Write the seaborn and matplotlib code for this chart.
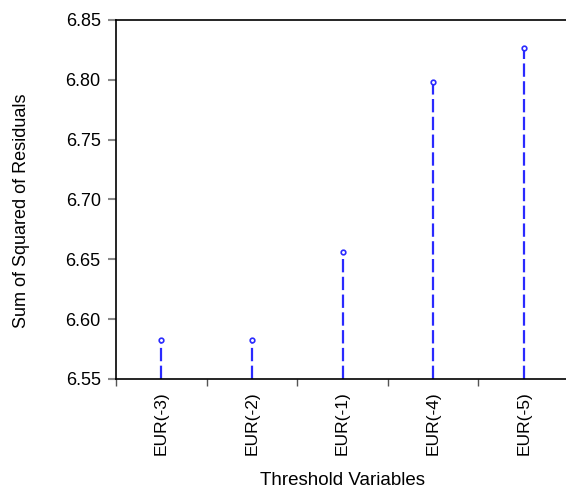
import numpy as np
import pandas as pd
import matplotlib
matplotlib.use("Agg")
import matplotlib.pyplot as plt
import seaborn as sns

# --------------------------------------------------------------------------- #
# Data
# --------------------------------------------------------------------------- #
variables = ["EUR(-3)", "EUR(-2)", "EUR(-1)", "EUR(-4)", "EUR(-5)"]
ssr = [6.5825, 6.5825, 6.6565, 6.7980, 6.8270]
y_ticks = [6.55, 6.60, 6.65, 6.70, 6.75, 6.80, 6.85]
y_min, y_max = 6.55, 6.85

df = pd.DataFrame({"variable": variables, "ssr": ssr})

sns.set_style("white")
plt.rcParams["font.family"] = ["Liberation Sans", "DejaVu Sans"]
plt.rcParams["text.color"] = "black"
plt.rcParams["axes.labelcolor"] = "black"
plt.rcParams["xtick.labelcolor"] = "black"
plt.rcParams["ytick.labelcolor"] = "black"

fig = plt.figure(figsize=(5.66, 4.9), dpi=100)
# axes run slightly past the right edge, as in the original
ax = fig.add_axes([116 / 566, 111 / 490, 453 / 566, 359 / 490])

stem_color = "#2a2aff"
pos = np.arange(len(variables))
ax.vlines(pos, y_min, df["ssr"], colors=stem_color, linewidth=1.6,
          linestyles=(0, (6, 2)))
sns.scatterplot(data=df, x="variable", y="ssr", ax=ax, marker="o", s=11,
                facecolor="white", edgecolor=stem_color, linewidth=1.2,
                zorder=3, legend=False)

ax.set_xlim(-0.5, len(variables) - 0.5)
ax.set_ylim(y_min, y_max)
ax.set_yticks(y_ticks)
ax.set_yticklabels([f"{t:.2f}" for t in y_ticks], fontsize=13)

ax.set_xticks(pos)
ax.set_xticklabels(variables, rotation=90, fontsize=12.5)
ax.set_xticks(np.arange(-0.5, len(variables) - 0.5, 1.0), minor=True)
ax.tick_params(axis="x", which="major", length=0, pad=9)
ax.tick_params(axis="x", which="minor", length=5, width=1, color="#555555",
               direction="out", bottom=True)
ax.tick_params(axis="y", which="major", length=6, width=1.5, color="#888888",
               direction="out", left=True, pad=5)

for side in ["left", "bottom", "top"]:
    ax.spines[side].set_color("black")
    ax.spines[side].set_linewidth(1.2)
ax.spines["right"].set_visible(False)

ax.set_xlabel("Threshold Variables", fontsize=13.5)
ax.set_ylabel("Sum of Squared of Residuals", fontsize=13)
ax.xaxis.set_label_coords(0.5, -0.284)
ax.xaxis.label.set_va("center")
ax.yaxis.set_label_coords(-0.2097, 0.468)
ax.yaxis.label.set_va("center")

fig.savefig("out.png", dpi=100)
